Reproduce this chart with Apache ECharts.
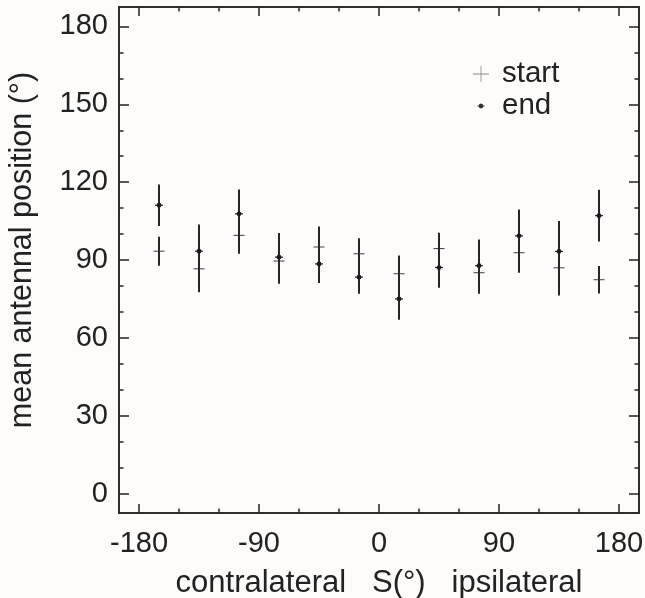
<!DOCTYPE html>
<html>
<head>
<meta charset="utf-8">
<script src="https://cdn.jsdelivr.net/npm/echarts@6/dist/echarts.min.js"></script>
<style>
    html, body { margin: 0; padding: 0; background: #fdfcfa; }
    #main { width: 645px; height: 598px; }
</style>
</head>
<body>
<div id="main"></div>
<script>
// stimulus direction S (deg)
var xPos = [-165, -135, -105, -75, -45, -15, 15, 45, 75, 105, 135, 165];
// "start" means and half error bars
var startMean = [93.4, 86.6, 99.5, 89.6, 95.0, 92.4, 84.7, 94.4, 85.1, 92.8, 87.0, 82.4];
var startErr = [5.6, 9.0, 7.1, 8.8, 7.9, 6.0, 7.0, 6.1, 8.1, 7.7, 10.7, 5.3];
// "end" means and half error bars
var endMean = [111.1, 93.4, 107.8, 91.1, 88.5, 83.4, 75.0, 87.1, 87.8, 99.3, 93.3, 107.1];
var endErr = [8.0, 10.3, 9.4, 9.3, 7.4, 6.4, 8.0, 7.8, 10.1, 10.2, 11.7, 10.0];

var xMajor = [-180, -90, 0, 90, 180];
var xMinor = [-150, -120, -60, -30, 30, 60, 120, 150];
var yMajor = [0, 30, 60, 90, 120, 150, 180];
var yMinor = [10, 20, 40, 50, 70, 80, 100, 110, 130, 140, 160, 170];

var ink = "#222";
var font = "'Liberation Sans', Arial, Helvetica, sans-serif";

function toData(means, errs) {
    var out = [];
    for (var i = 0; i < xPos.length; i++) {
        out.push([xPos[i], means[i], errs[i]]);
    }
    return out;
}

function barRender(kind) {
    return function (params, api) {
        var x = api.value(0), m = api.value(1), e = api.value(2);
        var top = api.coord([x, m + e]);
        var bot = api.coord([x, m - e]);
        var c = api.coord([x, m]);
        var kids = [{
            type: "line",
            shape: { x1: top[0], y1: top[1], x2: bot[0], y2: bot[1] },
            style: { stroke: "#2a2428", lineWidth: 2 }
        }];
        if (kind === "start") {
            kids.push({
                type: "line",
                shape: { x1: c[0] - 5.5, y1: c[1], x2: c[0] + 5.5, y2: c[1] },
                style: { stroke: "#3c3c3c", lineWidth: 1 }
            });
        } else {
            kids.push({
                type: "line",
                shape: { x1: c[0] - 4, y1: c[1], x2: c[0] + 4, y2: c[1] },
                style: { stroke: "#222", lineWidth: 1.2 }
            });
            kids.push({
                type: "circle",
                shape: { cx: c[0], cy: c[1], r: 2.4 },
                style: { fill: "#1e1a1c" }
            });
        }
        return { type: "group", children: kids };
    };
}

function xAx(pos, ticks, len, withLabel) {
    return {
        type: "value", position: pos, min: -195, max: 195,
        axisLine: { show: true, onZero: false, lineStyle: { color: ink, width: 1.5 } },
        axisTick: { show: true, inside: true, length: len, customValues: ticks, lineStyle: { color: ink, width: 1.5 } },
        axisLabel: withLabel ? { show: true, customValues: ticks, margin: 16, color: ink, fontSize: 29, fontFamily: font } : { show: false },
        splitLine: { show: false }
    };
}

function yAx(pos, ticks, len, withLabel) {
    return {
        type: "value", position: pos, min: -7.5, max: 187.5,
        axisLine: { show: true, onZero: false, lineStyle: { color: ink, width: 1.5 } },
        axisTick: { show: true, inside: true, length: len, customValues: ticks, lineStyle: { color: ink, width: 1.5 } },
        axisLabel: withLabel ? { show: true, customValues: ticks, margin: 11, color: ink, fontSize: 29, fontFamily: font } : { show: false },
        splitLine: { show: false }
    };
}

var chart = echarts.init(document.getElementById("main"));

var xBottom = xAx("bottom", xMajor, 9, true);
xBottom.name = "contralateral   S(°)   ipsilateral";
xBottom.nameLocation = "middle";
xBottom.nameGap = 55;
xBottom.nameTextStyle = { color: ink, fontSize: 31, fontFamily: font };

var yLeft = yAx("left", yMajor, 10, true);
yLeft.name = "mean antennal position (°)";
yLeft.nameLocation = "middle";
yLeft.nameGap = 81;
yLeft.nameTextStyle = { color: ink, fontSize: 30.5, fontFamily: font, padding: [0, 0, 0, 20] };

var option = {
    backgroundColor: "#fdfcfa",
    animation: false,
    grid: { left: 119, right: 6, top: 7, bottom: 85, outerBoundsMode: "none", containLabel: false },
    legend: {
        orient: "vertical",
        left: 468,
        top: 54,
        itemWidth: 16,
        itemHeight: 16,
        itemGap: 2,
        textStyle: { color: ink, fontSize: 29.5, fontFamily: font, lineHeight: 28, padding: [0, 0, 0, 8] },
        data: [
            { name: "start", icon: "path://M0,7.6h16v0.8h-16z M7.6,0h0.8v16h-0.8z" },
            { name: "end", icon: "path://M0,0 M16,16 M4.5,7.5h7v1h-7z M8,5.6 L9.8,6.2 L10.4,8 L9.8,9.8 L8,10.4 L6.2,9.8 L5.6,8 L6.2,6.2z" }
        ]
    },
    xAxis: [
        xBottom,
        xAx("bottom", xMinor, 4.5, false),
        xAx("top", xMajor, 9, false),
        xAx("top", xMinor, 4.5, false)
    ],
    yAxis: [
        yLeft,
        yAx("left", yMinor, 4.5, false),
        yAx("right", yMajor, 10, false),
        yAx("right", yMinor, 4.5, false)
    ],
    series: [
        {
            name: "start",
            type: "custom",
            xAxisIndex: 0,
            yAxisIndex: 0,
            itemStyle: { color: "#8a8a8a" },
            renderItem: barRender("start"),
            data: toData(startMean, startErr)
        },
        {
            name: "end",
            type: "custom",
            xAxisIndex: 0,
            yAxisIndex: 0,
            itemStyle: { color: "#333" },
            renderItem: barRender("end"),
            data: toData(endMean, endErr)
        }
    ]
};
chart.setOption(option);
</script>
</body>
</html>
